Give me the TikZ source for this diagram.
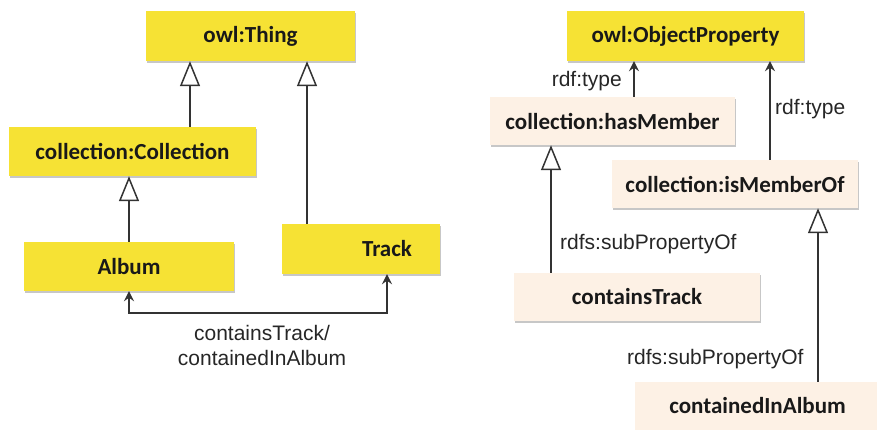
\documentclass[tikz,border=0pt]{standalone}
\usepackage{fontspec}
\setmainfont{Liberation Sans}
\newfontfamily\boxfont{Carlito}
\usetikzlibrary{arrows.meta,shadows}
\definecolor{classyellow}{HTML}{F6E234}
\definecolor{proppeach}{HTML}{FDF1E5}
\definecolor{linegray}{HTML}{333333}
\tikzset{
  box/.style={rectangle, inner sep=0pt, font=\boxfont\bfseries\fontsize{23}{27}\selectfont,
    text=black!90, drop shadow={shadow xshift=1.2pt, shadow yshift=-1.8pt, fill=black, opacity=0.22}},
  classbox/.style={box, fill=classyellow},
  propbox/.style={box, fill=proppeach},
  conn/.style={draw=linegray, line width=1.5pt},
  gen/.style={conn, -{Triangle[open, length=25pt, width=20pt, line width=1.5pt]}},
  rel/.style={conn, -{Stealth[length=10pt, width=10pt, inset=3.5pt]}},
  birel/.style={conn, {Stealth[length=10pt, width=10pt, inset=3.5pt]}-{Stealth[length=10pt, width=10pt, inset=3.5pt]}},
  lbl/.style={font=\fontsize{21}{26}\selectfont, text=black!85, inner sep=0pt}
}
\begin{document}
\begin{tikzpicture}[x=1pt, y=-1pt]
\useasboundingbox (0,0) rectangle (877,429);

% class hierarchy
\node[classbox, minimum width=209pt, minimum height=50pt] (thing) at (250.5,36) {owl:Thing};
\node[classbox, minimum width=247pt, minimum height=49pt] (coll) at (132.5,151.5) {collection:Collection};
\node[classbox, minimum width=210pt, minimum height=49pt] (album) at (129,266.5) {Album};
\node[classbox, minimum width=158pt, minimum height=50pt, text width=102pt, align=right, inner xsep=28pt] (track) at (361,249) {Track};

\draw[gen] ([xshift=57.5pt]coll.north) -- ([xshift=57.5pt]coll.north |- thing.south);
\draw[gen] (album.north) -- (album.north |- coll.south);
\draw[gen] ([xshift=-54pt]track.north) -- ([xshift=-54pt]track.north |- thing.south);

\coordinate (corner) at (387,313);
\draw[birel] (album.south) |- (corner) -- (corner |- track.south);
\node[lbl, align=center] (ctlabel) at (262,345) {containsTrack/\\[-1pt]containedInAlbum};

% property hierarchy
\node[classbox, minimum width=237pt, minimum height=50pt] (objprop) at (685.5,36) {owl:ObjectProperty};
\node[propbox, minimum width=245pt, minimum height=48pt] (hasmem) at (612.5,121) {collection:hasMember};
\node[propbox, minimum width=246pt, minimum height=48pt] (ismem) at (735,184) {collection:isMemberOf};
\node[propbox, minimum width=246pt, minimum height=48pt] (contains) at (637,297) {containsTrack};
\node[propbox, minimum width=245pt, minimum height=48pt] (contained) at (757.5,406) {containedInAlbum};

\draw[rel] ([xshift=21.5pt]hasmem.north) -- ([xshift=21.5pt]hasmem.north |- objprop.south);
\draw[rel] ([xshift=35pt]ismem.north) -- ([xshift=35pt]ismem.north |- objprop.south);
\draw[gen] ([xshift=-86pt]contains.north) -- ([xshift=-86pt]contains.north |- hasmem.south);
\draw[gen] ([xshift=60.5pt]contained.north) -- ([xshift=60.5pt]contained.north |- ismem.south);

\node[lbl, anchor=east] (type1) at (622,81) {rdf:type};
\node[lbl, anchor=west] (type2) at (775,109) {rdf:type};
\node[lbl, anchor=west] (sub1) at (560,244) {rdfs:subPropertyOf};
\node[lbl, anchor=west] (sub2) at (627,359) {rdfs:subPropertyOf};
\end{tikzpicture}
\end{document}
